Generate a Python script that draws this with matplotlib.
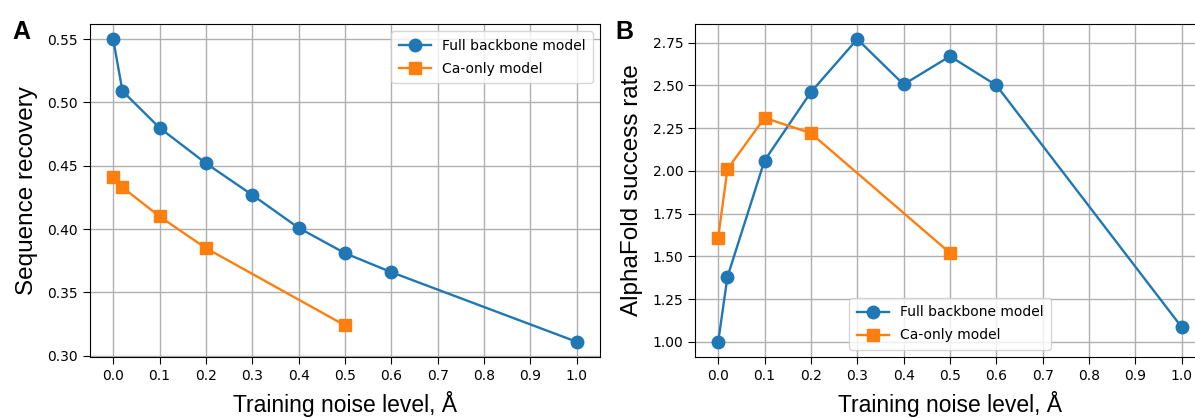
import matplotlib.pyplot as plt
import numpy as np

# noise levels (Angstrom)
noise_full = [0.0, 0.02, 0.1, 0.2, 0.3, 0.4, 0.5, 0.6, 1.0]
noise_ca = [0.0, 0.02, 0.1, 0.2, 0.5]

# panel A - sequence recovery
recovery_full = [0.550, 0.509, 0.480, 0.452, 0.427, 0.401, 0.381, 0.366, 0.311]
recovery_ca = [0.441, 0.433, 0.410, 0.385, 0.324]

# panel B - AlphaFold success rate
af_full = [1.00, 1.38, 2.06, 2.46, 2.77, 2.505, 2.67, 2.50, 1.085]
af_ca = [1.61, 2.01, 2.31, 2.22, 1.52]

xticks = np.round(np.arange(0, 1.01, 0.1), 1)
label_font = 'Liberation Sans'

fig = plt.figure(figsize=(11.95, 4.18), dpi=100)
axA = fig.add_axes([90 / 1195, 61 / 418, 510 / 1195, 333 / 418])
axB = fig.add_axes([695 / 1195, 61 / 418, 510 / 1195, 333 / 418])


def draw(ax, y_full, y_ca, ylabel, legend_loc, yticks, fmt):
    ax.plot(noise_full, y_full, '-o', color='#1f77b4', lw=1.7, ms=9,
            label='Full backbone model')
    ax.plot(noise_ca, y_ca, '-s', color='#ff7f0e', lw=1.7, ms=9,
            label='Ca-only model')
    ax.set_xticks(xticks)
    ax.set_xticklabels(['%.1f' % t for t in xticks])
    ax.set_yticks(yticks)
    ax.set_yticklabels([fmt % t for t in yticks])
    ax.tick_params(labelsize=10, length=5)
    ax.grid(True, color='#b0b0b0', lw=1)
    ax.set_axisbelow(True)
    ax.set_xlabel('Training noise level, Å', fontsize=16.5, family=label_font,
                  labelpad=6)
    ax.set_ylabel(ylabel, fontsize=17.5, family=label_font, labelpad=7)
    ax.legend(loc=legend_loc, fontsize=10, handlelength=2.3,
              labelspacing=0.65, borderpad=0.55)


draw(axA, recovery_full, recovery_ca, 'Sequence recovery', 'upper right',
     np.arange(0.30, 0.551, 0.05), '%.2f')
draw(axB, af_full, af_ca, 'AlphaFold success rate', 'lower center',
     np.arange(1.0, 2.76, 0.25), '%.2f')

fig.text(12 / 1195, 1 - 39 / 418, 'A', fontsize=18, weight='bold', family=label_font)
fig.text(615 / 1195, 1 - 39 / 418, 'B', fontsize=18, weight='bold', family=label_font)

fig.savefig('out.png', dpi=100)
